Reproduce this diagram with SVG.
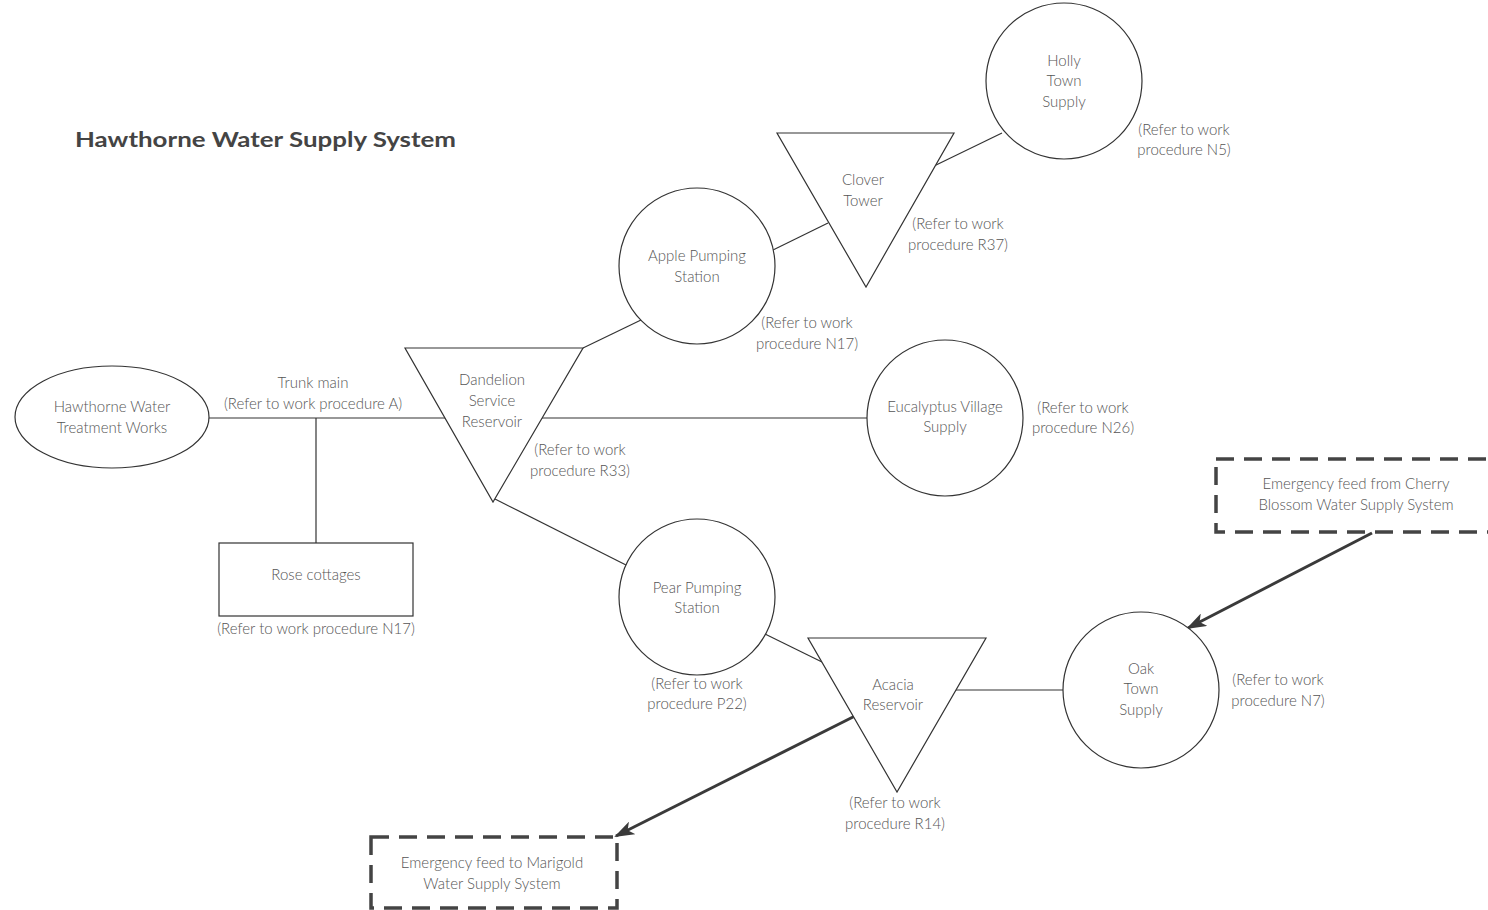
<svg xmlns="http://www.w3.org/2000/svg" width="1488" height="910" viewBox="0 0 1488 910">
<style>
.s{fill:#fff;stroke:#333;stroke-width:1.2}
.c{stroke:#333;stroke-width:1.2;fill:none}
.e{stroke:#3a3a3a;stroke-width:3;fill:none}
.d{fill:none;stroke:#444;stroke-width:3.5;stroke-dasharray:18 10}
text{font-family:Lato,"Open Sans","Liberation Sans",sans-serif;font-size:15px;fill:#555;text-anchor:middle;font-weight:300}
.t{font-size:21px;font-weight:bold;fill:#444;text-anchor:start}
</style>
<defs>
<marker id="ah" viewBox="0 0 20 14" refX="18" refY="7" markerWidth="20" markerHeight="14" markerUnits="userSpaceOnUse" orient="auto">
<path d="M0,0 L20,7 L0,14 L5,7 Z" fill="#3a3a3a"/>
</marker>
</defs>
<rect width="1488" height="910" fill="#fff"/>
<text class="t" x="75" y="147" textLength="381" lengthAdjust="spacingAndGlyphs">Hawthorne Water Supply System</text>
<g id="connectors">
<line class="c" x1="209" y1="418" x2="445" y2="418"/>
<line class="c" x1="316" y1="418" x2="316" y2="543"/>
<line class="c" x1="542" y1="418" x2="867" y2="418"/>
<line class="c" x1="583" y1="348" x2="641" y2="320"/>
<line class="c" x1="773" y1="250" x2="828" y2="223"/>
<line class="c" x1="934" y1="166" x2="1002" y2="133"/>
<line class="c" x1="495" y1="499" x2="626" y2="565"/>
<line class="c" x1="765" y1="634" x2="822" y2="662"/>
<line class="c" x1="956" y1="690" x2="1063" y2="690"/>
<line class="e" x1="1372" y1="533" x2="1188" y2="628" marker-end="url(#ah)"/>
<line class="e" x1="855" y1="716" x2="616" y2="836" marker-end="url(#ah)"/>
</g>
<g id="hawthorne">
<ellipse class="s" cx="112" cy="417" rx="97" ry="51"/>
<text x="112" y="412">Hawthorne Water</text>
<text x="112" y="433">Treatment Works</text>
</g>
<g id="trunk-label">
<text x="313" y="388">Trunk main</text>
<text x="313" y="409">(Refer to work procedure A)</text>
</g>
<g id="rose">
<rect class="s" x="219" y="543" width="194" height="73"/>
<text x="316" y="580">Rose cottages</text>
<text x="316" y="634">(Refer to work procedure N17)</text>
</g>
<g id="dandelion">
<polygon class="s" points="405,348 583,348 493,502"/>
<text x="492" y="385">Dandelion</text>
<text x="492" y="406">Service</text>
<text x="492" y="427">Reservoir</text>
<text x="580" y="455">(Refer to work</text>
<text x="580" y="476">procedure R33)</text>
</g>
<g id="apple">
<circle class="s" cx="697" cy="266" r="78"/>
<text x="697" y="261">Apple Pumping</text>
<text x="697" y="282">Station</text>
<text x="807" y="328">(Refer to work</text>
<text x="807" y="349">procedure N17)</text>
</g>
<g id="clover">
<polygon class="s" points="777,133 954,133 866,287"/>
<text x="863" y="185">Clover</text>
<text x="863" y="206">Tower</text>
<text x="958" y="229">(Refer to work</text>
<text x="958" y="250">procedure R37)</text>
</g>
<g id="holly">
<circle class="s" cx="1064" cy="81" r="78"/>
<text x="1064" y="66">Holly</text>
<text x="1064" y="86">Town</text>
<text x="1064" y="107">Supply</text>
<text x="1184" y="135">(Refer to work</text>
<text x="1184" y="155">procedure N5)</text>
</g>
<g id="eucalyptus">
<circle class="s" cx="945" cy="418" r="78"/>
<text x="945" y="412">Eucalyptus Village</text>
<text x="945" y="432">Supply</text>
<text x="1083" y="413">(Refer to work</text>
<text x="1083" y="433">procedure N26)</text>
</g>
<g id="pear">
<circle class="s" cx="697" cy="597" r="78"/>
<text x="697" y="593">Pear Pumping</text>
<text x="697" y="613">Station</text>
<text x="697" y="689">(Refer to work</text>
<text x="697" y="709">procedure P22)</text>
</g>
<g id="acacia">
<polygon class="s" points="808,638 986,638 897,792"/>
<text x="893" y="690">Acacia</text>
<text x="893" y="710">Reservoir</text>
<text x="895" y="808">(Refer to work</text>
<text x="895" y="829">procedure R14)</text>
</g>
<g id="oak">
<circle class="s" cx="1141" cy="690" r="78"/>
<text x="1141" y="674">Oak</text>
<text x="1141" y="694">Town</text>
<text x="1141" y="715">Supply</text>
<text x="1278" y="685">(Refer to work</text>
<text x="1278" y="706">procedure N7)</text>
</g>
<g id="cherry">
<rect class="d" x="1216" y="459" width="290" height="73"/>
<text x="1356" y="489">Emergency feed from Cherry</text>
<text x="1356" y="510">Blossom Water Supply System</text>
</g>
<g id="marigold">
<rect class="d" x="371" y="837" width="246" height="71"/>
<text x="492" y="868">Emergency feed to Marigold</text>
<text x="492" y="889">Water Supply System</text>
</g>
</svg>
